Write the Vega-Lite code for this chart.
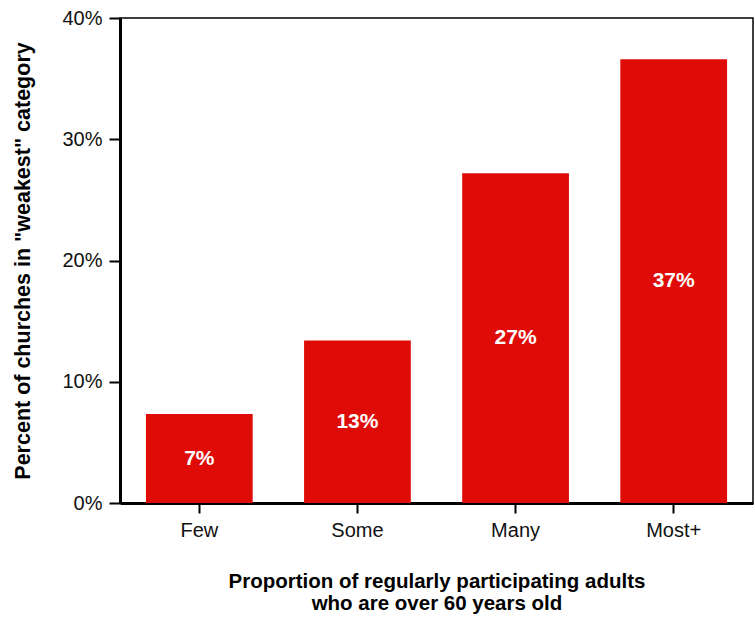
{
  "$schema": "https://vega.github.io/schema/vega-lite/v6.json",
  "autosize": "none",
  "width": 633,
  "height": 485,
  "padding": {"left": 120, "top": 18, "right": 2, "bottom": 115},
  "background": "white",
  "config": {
    "font": "Liberation Sans",
    "view": {"stroke": "black", "strokeWidth": 1.5}
  },
  "data": {
    "values": [
      {"group": "Few", "pct": 0.0734},
      {"group": "Some", "pct": 0.134},
      {"group": "Many", "pct": 0.272},
      {"group": "Most+", "pct": 0.366}
    ]
  },
  "encoding": {
    "x": {
      "field": "group",
      "type": "nominal",
      "sort": null,
      "scale": {"paddingInner": 0.325, "paddingOuter": 0.164},
      "axis": {
        "title": ["Proportion of regularly participating adults", "who are over 60 years old"],
        "titleFont": "Liberation Sans",
        "titleFontSize": 20.5,
        "titleFontWeight": "bold",
        "titleColor": "black",
        "titlePadding": 31,
        "titleLineHeight": 22,
        "labelAngle": 0,
        "labelFontSize": 20,
        "labelColor": "#111",
        "labelPadding": 7,
        "tickSize": 10,
        "tickWidth": 2,
        "tickColor": "black",
        "domainColor": "black",
        "domainWidth": 3,
        "grid": false
      }
    }
  },
  "layer": [
    {
      "mark": {"type": "bar", "color": "#de0b07"},
      "encoding": {
        "y": {
          "field": "pct",
          "type": "quantitative",
          "scale": {"domain": [0, 0.4], "nice": false},
          "axis": {
            "title": "Percent of churches in \"weakest\" category",
            "titleFont": "Liberation Sans",
            "titleFontSize": 21.5,
            "titleFontWeight": "bold",
            "titleColor": "black",
            "titlePadding": 27,
            "values": [0, 0.1, 0.2, 0.3, 0.4],
            "format": ".0%",
            "labelFontSize": 20,
            "labelColor": "#111",
            "labelPadding": 7,
            "tickSize": 11,
            "tickWidth": 2,
            "tickColor": "black",
            "domainColor": "black",
            "domainWidth": 3,
            "grid": false
          }
        }
      }
    },
    {
      "transform": [{"calculate": "datum.pct / 2", "as": "mid"}],
      "mark": {"type": "text", "color": "white", "fontSize": 21, "fontWeight": "bold", "baseline": "middle"},
      "encoding": {
        "y": {"field": "mid", "type": "quantitative"},
        "text": {"field": "pct", "type": "quantitative", "format": ".0%"}
      }
    }
  ]
}
